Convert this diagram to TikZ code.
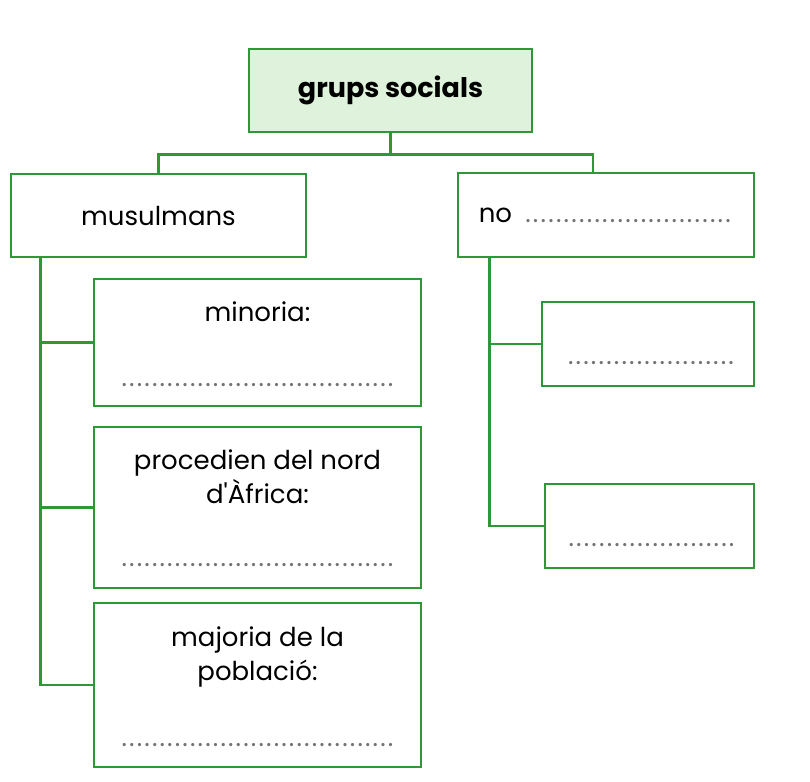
\documentclass[tikz,border=0pt]{standalone}
\usepackage{fontspec}
\setmainfont{Poppins}
\usepackage{xcolor}
\usepackage{tikz}
\usetikzlibrary{positioning}
\definecolor{boxgreen}{RGB}{46,152,56}
\definecolor{mint}{RGB}{222,242,220}
\definecolor{dotgray}{RGB}{115,115,115}
\newcommand\dotrow[1]{\textcolor{dotgray}{\hbox to #1{\xleaders\hbox to 7.6pt{\hss.\hss}\hfill}}}
\newcommand\straightq{\XeTeXglyph\XeTeXcharglyph"27\relax}

\begin{document}
\begin{tikzpicture}[x=1pt,y=-1pt,
        box/.style={draw=boxgreen,line width=2.8pt,inner sep=0pt,font=\fontsize{26}{34}\selectfont},
        link/.style={draw=boxgreen,line width=2.8pt},
        lbl/.style={font=\fontsize{26}{34}\selectfont,align=center,inner sep=0pt}]
        \useasboundingbox[fill=white] (0,0) rectangle (810,781);

        %%% BOXES %%%
        \node[box,fill=mint,minimum width=283pt,minimum height=83pt] (grups) at (390.5,90.5) {\fontsize{27}{34}\selectfont\bfseries grups socials};
        \node[box,minimum width=295pt,minimum height=83pt] (musulmans) at (158.5,215.5) {musulmans};
        \node[box,minimum width=296pt,minimum height=84pt] (noMus) at (606,215) {};
        \node[box,minimum width=327pt,minimum height=127pt] (minoria) at (257.5,342.5) {};
        \node[box,minimum width=327pt,minimum height=161pt] (nord) at (257.5,507.5) {};
        \node[box,minimum width=327pt,minimum height=164pt] (majoria) at (257.5,685) {};
        \node[box,minimum width=212pt,minimum height=84pt] (blankA) at (648,344) {};
        \node[box,minimum width=209pt,minimum height=84pt] (blankB) at (649.5,526) {};

        %%% TEXTS %%%
        \node[lbl,anchor=west] (noT) at ([xshift=22pt]noMus.west) {no\hspace{12pt}\dotrow{208pt}};
        \node[lbl] (minoriaT) at ([yshift=-34pt]minoria.north) {minoria:};
        \node[lbl,anchor=base] (minoriaD) at ([yshift=21pt]minoria.south) {\dotrow{274pt}};
        \node[lbl] (nordT) at ([yshift=-51pt]nord.north) {procedien del nord\\d\straightq Àfrica:};
        \node[lbl,anchor=base] (nordD) at ([yshift=23pt]nord.south) {\dotrow{274pt}};
        \node[lbl] (majoriaT) at ([yshift=-55pt]majoria.north) {majoria de la\\població:};
        \node[lbl,anchor=base] (majoriaD) at ([yshift=22pt]majoria.south) {\dotrow{274pt}};
        \node[lbl,anchor=base] (blankAD) at ([xshift=3pt,yshift=23pt]blankA.south) {\dotrow{168pt}};
        \node[lbl,anchor=base] (blankBD) at ([xshift=2pt,yshift=23pt]blankB.south) {\dotrow{168pt}};

        %%% LINES %%%
        \coordinate (split) at ([yshift=-21pt]grups.south);
        \coordinate (ltop) at ([xshift=31pt]musulmans.south west);
        \coordinate (rtop) at ([xshift=33pt]noMus.south west);
        \draw[link] (grups.south) -- (split);
        \draw[link] (musulmans.north) |- (split) -| ([xshift=-13pt]noMus.north);
        \draw[link] (ltop) |- (majoria.west);
        \draw[link] (ltop |- minoria.west) -- (minoria.west);
        \draw[link] (ltop |- nord.west) -- (nord.west);
        \draw[link] (rtop) |- (blankB.west);
        \draw[link] (rtop |- blankA.west) -- (blankA.west);
\end{tikzpicture}
\end{document}
